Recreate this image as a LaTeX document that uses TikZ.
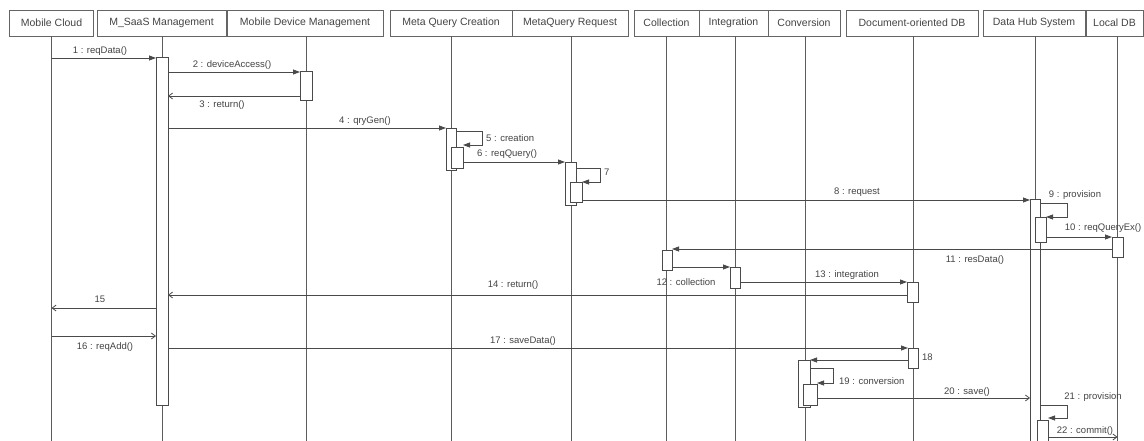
\documentclass[tikz,border=0pt]{standalone}
\usepackage{fontspec}
\setmainfont{Liberation Sans}
\usetikzlibrary{arrows.meta}
\definecolor{ln}{HTML}{4A4A4A}
\definecolor{txt}{HTML}{444444}
\newcommand\actbox[5]{\node[bar,minimum width={(#3-#2)*1pt},minimum height={(#5-#4)*1pt}] (#1) at ({(#2+#3)/2},{(#4+#5)/2}) {};}
\begin{document}
\begin{tikzpicture}[x=1pt,y=-1pt,
 head/.style={draw=ln!85, line width=0.8pt, minimum height=26pt, inner sep=0pt, font=\fontsize{10.5}{12}\selectfont, text=txt},
 life/.style={draw=ln!90, line width=0.9pt},
 bar/.style={draw=ln, fill=white, line width=0.7pt, inner sep=0pt, outer sep=0pt},
 call/.style={draw=ln, line width=0.8pt, -{Triangle[length=7pt,width=5pt]}},
 ret/.style={draw=ln, line width=0.8pt, -{Straight Barb[length=4pt,width=6pt]}},
 lbl/.style={font=\fontsize{9.5}{11}\selectfont, text=txt, inner sep=1pt}]
\useasboundingbox[fill=white] (0,0) rectangle (1144,441);
\coordinate (bot) at (0,441);
% headers
\node[head, minimum width=84pt]  (hMC)   at (51.5,23)  {Mobile Cloud};
\node[head, minimum width=129pt] (hMS)   at (161.5,23) {M\_SaaS Management};
\node[head, minimum width=156pt] (hMDM)  at (305,23)   {Mobile Device Management};
\node[head, minimum width=122pt] (hMQC)  at (451,23)   {Meta Query Creation};
\node[head, minimum width=116pt] (hMQR)  at (570,23)   {MetaQuery Request};
\node[head, minimum width=65pt]  (hCOL)  at (666.5,23) {Collection};
\node[head, minimum width=69pt]  (hINT)  at (733.5,23) {Integration};
\node[head, minimum width=72pt]  (hCONV) at (804,23)   {Conversion};
\node[head, minimum width=132pt] (hDDB)  at (912,23)   {Document-oriented DB};
\node[head, minimum width=102pt] (hDHS)  at (1034,23)  {Data Hub System};
\node[head, minimum width=57pt]  (hLDB)  at (1114.5,23){Local DB};
% lifelines
\draw[life] (hMC.south) -- (hMC.south |- bot);
\draw[life] ([xshift=0.5pt]hMS.south) -- ([xshift=0.5pt]hMS.south |- bot);
\draw[life] ([xshift=1pt]hMDM.south) -- ([xshift=1pt]hMDM.south |- bot);
\draw[life] (hMQC.south) -- (hMQC.south |- bot);
\draw[life] ([xshift=1pt]hMQR.south) -- ([xshift=1pt]hMQR.south |- bot);
\draw[life] (hCOL.south) -- (hCOL.south |- bot);
\draw[life] ([xshift=1.5pt]hINT.south) -- ([xshift=1.5pt]hINT.south |- bot);
\draw[life] ([xshift=1pt]hCONV.south) -- ([xshift=1pt]hCONV.south |- bot);
\draw[life] ([xshift=1pt]hDDB.south) -- ([xshift=1pt]hDDB.south |- bot);
\draw[life] ([xshift=1pt]hDHS.south) -- ([xshift=1pt]hDHS.south |- bot);
\draw[life] ([xshift=3pt]hLDB.south) -- ([xshift=3pt]hLDB.south |- bot);
% activation bars
\actbox{bMS}{156}{168}{57}{405}
\actbox{bMDM}{300}{312}{71}{100}
\actbox{bMQC}{446}{456}{128}{170}
\actbox{bMQC2}{451}{463}{147}{168}
\actbox{bMQR}{565}{576}{162}{205}
\actbox{bMQR2}{570}{582}{182}{202}
\actbox{bDHS}{1030}{1040}{199}{441}
\actbox{bDHS2}{1035}{1046}{217}{242}
\actbox{bDHS3}{1037}{1048}{420}{441}
\actbox{bLDB}{1112}{1123}{237}{257}
\actbox{bCOL}{662}{672}{250}{270}
\actbox{bINT}{730}{740}{267}{288}
\actbox{bDDB}{907}{918}{282}{302}
\actbox{bDDB2}{908}{918}{348}{368}
\actbox{bCONV}{798}{810}{360}{407}
\actbox{bCONV2}{803}{817}{384}{405}
% messages
\draw[call] (hMC.south |- 0,58) -- (bMS.west |- 0,58);
\node[lbl] (l1) at (100,51) {1 : reqData()};
\draw[call] (bMS.east |- 0,72) -- (bMDM.west |- 0,72);
\node[lbl] (l2) at (232,65) {2 : deviceAccess()};
\draw[ret] (bMDM.west |- 0,96) -- (bMS.east |- 0,96);
\node[lbl] (l3) at (222,105) {3 : return()};
\draw[call] (bMS.east |- 0,128) -- (bMQC.west |- 0,128);
\node[lbl] (l4) at (365,121) {4 : qryGen()};
\draw[call] (bMQC.east |- 0,131) -- ++(26,0) |- (bMQC2.east |- 0,145);
\node[lbl, anchor=west] (l5) at (485,138) {5 : creation};
\draw[call] (bMQC2.east |- 0,162) -- (bMQR.west |- 0,162);
\node[lbl] (l6) at (507,154) {6 : reqQuery()};
\draw[call] (bMQR.east |- 0,168) -- ++(24,0) |- (bMQR2.east |- 0,182);
\node[lbl, anchor=west] (l7) at (603,172) {7};
\draw[call] (bMQR2.east |- 0,200) -- (bDHS.west |- 0,200);
\node[lbl] (l8) at (857,192) {8 : request};
\draw[call] (bDHS.east |- 0,203) -- ++(27,0) |- (bDHS2.east |- 0,217);
\node[lbl] (l9) at (1075,195) {9 : provision};
\draw[call] (bDHS2.east |- 0,237) -- (bLDB.west |- 0,237);
\node[lbl] (l10) at (1103,228) {10 : reqQueryEx()};
\draw[call] (bLDB.west |- 0,249) -- (bCOL.east |- 0,249);
\node[lbl] (l11) at (975,260) {11 : resData()};
\draw[call] (bCOL.east |- 0,267) -- (bINT.west |- 0,267);
\node[lbl] (l12) at (686,282) {12 : collection};
\draw[call] (bINT.east |- 0,282) -- (bDDB.west |- 0,282);
\node[lbl] (l13) at (847,275) {13 : integration};
\draw[ret] (bDDB.west |- 0,295) -- (bMS.east |- 0,295);
\node[lbl] (l14) at (513,285) {14 : return()};
\draw[ret] (bMS.west |- 0,308) -- (hMC.south |- 0,308);
\node[lbl] (l15) at (100,299) {15};
\draw[ret] (hMC.south |- 0,336) -- (bMS.west |- 0,336);
\node[lbl] (l16) at (105,347) {16 : reqAdd()};
\draw[call] (bMS.east |- 0,348) -- (bDDB2.west |- 0,348);
\node[lbl] (l17) at (523,341) {17 : saveData()};
\draw[call] (bDDB2.west |- 0,360) -- (bCONV.east |- 0,360);
\node[lbl, anchor=west] (l18) at (921,357) {18};
\draw[call] (bCONV.east |- 0,368) -- ++(23,0) |- (bCONV2.east |- 0,383);
\node[lbl, anchor=west] (l19) at (838,381) {19 : conversion};
\draw[ret] (bCONV2.east |- 0,398) -- (bDHS.west |- 0,398);
\node[lbl] (l20) at (967,392) {20 : save()};
\draw[call] (bDHS.east |- 0,405) -- ++(27,0) |- (bDHS3.east |- 0,418);
\node[lbl] (l21) at (1093,397) {21 : provision};
\draw[ret] (bDHS3.east |- 0,437) -- ([xshift=3pt]hLDB.south |- 0,437);
\node[lbl] (l22) at (1085,431) {22 : commit()};
\end{tikzpicture}
\end{document}
